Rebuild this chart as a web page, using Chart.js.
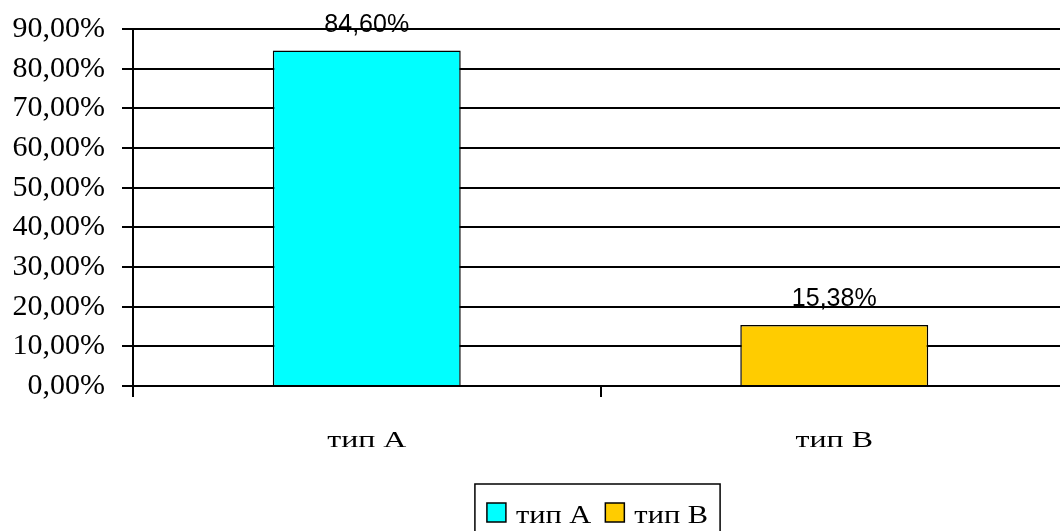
<!DOCTYPE html>
<html>
<head>
<meta charset="utf-8">
<script src="https://cdn.jsdelivr.net/npm/chart.js@4"></script>
<style>
    html, body { margin: 0; padding: 0; background: #fff; overflow: hidden; }
    #wrap { width: 1075px; height: 531px; }
</style>
</head>
<body>
<div id="wrap"><canvas id="typeChart" width="1075" height="531"></canvas></div>
<script>
// 데이터
const categories = ['тип A', 'тип B'];
const shares = [84.60, 15.38];
const barColors = ['#00FFFF', '#FFCC00'];
const yTicks = [0, 10, 20, 30, 40, 50, 60, 70, 80, 90];

const SERIF = '"Liberation Serif", "Times New Roman", serif';

// 퍼센트 포맷 (쉼표 소수점)
function formatPercent(v, digits) {
    return v.toFixed(digits).replace('.', ',') + '%';
}

// 가로로 늘린 텍스트 그리기
function drawWideText(ctx, text, x, y, stretch, align) {
    ctx.save();
    ctx.translate(x, y);
    ctx.scale(stretch, 1);
    ctx.textAlign = align;
    ctx.fillText(text, 0, 0);
    ctx.restore();
}

// 막대 위 값 라벨
const valueLabels = {
    id: 'valueLabels',
    afterDatasetsDraw(chart) {
        const ctx = chart.ctx;
        ctx.save();
        ctx.font = '25px "Liberation Sans", Arial, sans-serif';
        ctx.fillStyle = '#000';
        ctx.textAlign = 'center';
        ctx.textBaseline = 'alphabetic';
        chart.data.datasets.forEach((ds, i) => {
            const bar = chart.getDatasetMeta(i).data[i];
            if (!bar) return;
            ctx.fillText(formatPercent(shares[i], 2), bar.x, bar.y - 18.5);
        });
        ctx.restore();
    }
};

// 카테고리 라벨 + 범례
const categoryAndLegend = {
    id: 'categoryAndLegend',
    afterDraw(chart) {
        const ctx = chart.ctx;
        const xScale = chart.scales.x;
        ctx.save();
        ctx.fillStyle = '#000';
        ctx.textBaseline = 'alphabetic';

        // x축 카테고리
        ctx.font = '24px ' + SERIF;
        categories.forEach((c, i) => {
            drawWideText(ctx, c, xScale.getPixelForTick(i), 447, 1.33, 'center');
        });

        // 범례
        const box = 19, gap = 10, spacing = 14, pad = 11, stretch = 1.17;
        ctx.font = '26px ' + SERIF;
        const widths = categories.map(c => ctx.measureText(c).width * stretch);
        const total = widths.reduce((s, w) => s + box + gap + w, 0) + spacing * (categories.length - 1);
        const center = 597.5;
        let x = center - total / 2;
        ctx.strokeStyle = '#000';
        ctx.lineWidth = 1.5;
        ctx.strokeRect(x - pad - 1, 484, total + pad * 2 + 2, 70);
        categories.forEach((c, i) => {
            ctx.fillStyle = barColors[i];
            ctx.fillRect(x, 503, box, box);
            ctx.strokeRect(x, 503, box, box);
            ctx.fillStyle = '#000';
            drawWideText(ctx, c, x + box + gap, 522.5, stretch, 'left');
            x += box + gap + widths[i] + spacing;
        });
        ctx.restore();
    }
};

new Chart(document.getElementById('typeChart'), {
    type: 'bar',
    data: {
        labels: categories,
        datasets: categories.map((c, i) => ({
            label: c,
            data: categories.map((_, j) => (j === i ? shares[i] : null)),
            backgroundColor: barColors[i],
            borderColor: '#000',
            borderWidth: 1.5,
            categoryPercentage: 1,
            barPercentage: 0.402
        }))
    },
    options: {
        responsive: false,
        animation: false,
        devicePixelRatio: 1,
        layout: { padding: { top: 29, right: 7, left: 0, bottom: 85 } },
        datasets: { bar: { grouped: false } },
        plugins: {
            legend: { display: false },
            tooltip: { enabled: false }
        },
        scales: {
            x: {
                offset: true,
                afterFit(scale) { scale.height = 60; },
                grid: {
                    display: true,
                    drawOnChartArea: false,
                    drawTicks: true,
                    tickLength: 11,
                    color: '#000',
                    lineWidth: 2
                },
                border: { display: true, color: '#000', width: 2 },
                ticks: { display: false }
            },
            y: {
                min: 0,
                max: 90,
                afterFit(scale) {
                    scale.width = 133;
                    scale.paddingTop = 0;
                    scale.paddingBottom = 0;
                },
                afterBuildTicks(scale) { scale.ticks = yTicks.map(v => ({ value: v })); },
                grid: {
                    color: '#000',
                    lineWidth: 2,
                    drawTicks: true,
                    tickLength: 11
                },
                border: { display: true, color: '#000', width: 2 },
                ticks: {
                    color: '#000',
                    padding: 17,
                    font: { family: SERIF, size: 30 },
                    callback: v => formatPercent(v, 2)
                }
            }
        }
    },
    plugins: [valueLabels, categoryAndLegend]
});
</script>
</body>
</html>
